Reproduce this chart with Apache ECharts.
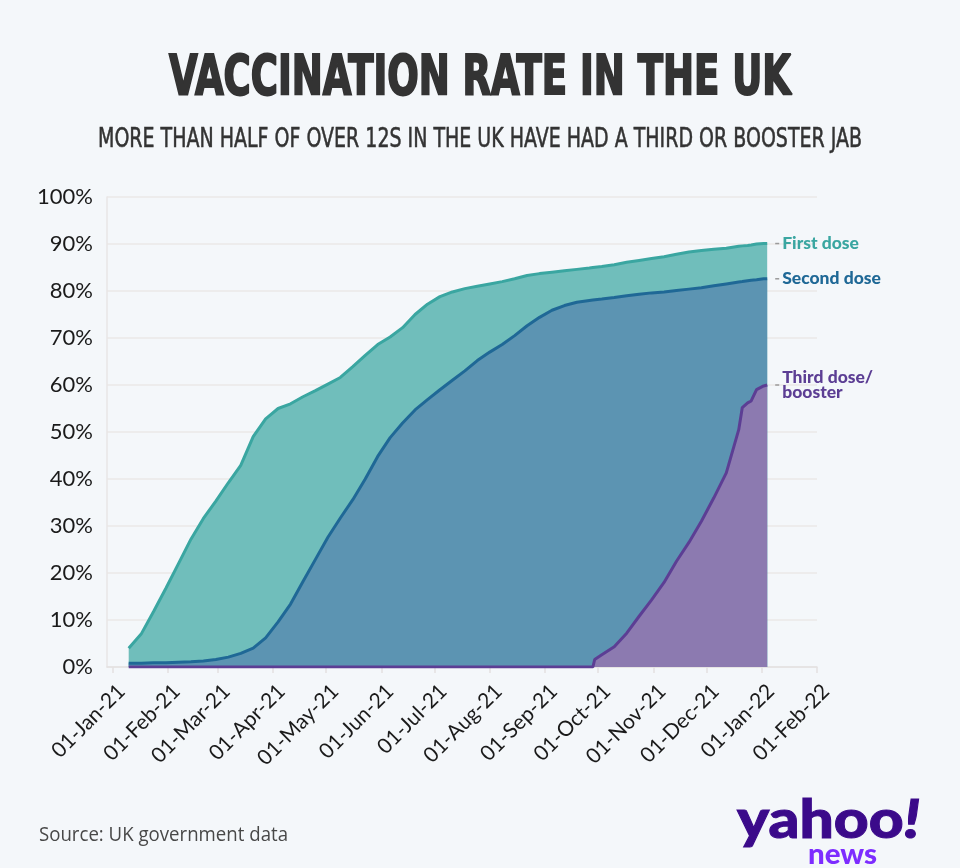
<!DOCTYPE html>
<html><head><meta charset="utf-8">
<script src="https://cdn.jsdelivr.net/npm/echarts@6/dist/echarts.min.js"></script>
<style>html,body{margin:0;padding:0;background:#f4f7fa}#chart{width:960px;height:868px}</style>
</head><body><div id="chart"></div>
<script>
const dates = ['2021-01-10','2021-01-17','2021-01-24','2021-01-31','2021-02-07','2021-02-14','2021-02-21','2021-02-28',
'2021-03-07','2021-03-14','2021-03-21','2021-03-28','2021-04-04','2021-04-11','2021-04-18','2021-04-25',
'2021-05-02','2021-05-09','2021-05-16','2021-05-23','2021-05-30','2021-06-06','2021-06-13','2021-06-20','2021-06-27',
'2021-07-04','2021-07-11','2021-07-18','2021-07-25','2021-08-01','2021-08-08','2021-08-15','2021-08-22','2021-08-29',
'2021-09-05','2021-09-12','2021-09-19','2021-09-26','2021-09-28','2021-09-29','2021-10-03','2021-10-10','2021-10-17',
'2021-10-24','2021-10-31','2021-11-07','2021-11-14','2021-11-21','2021-11-28','2021-12-05','2021-12-12','2021-12-19',
'2021-12-21','2021-12-24','2021-12-26','2021-12-29','2022-01-02','2022-01-04'];
const firstDose = [4.0,7.0,11.8,16.8,22.0,27.2,31.6,35.3,
39.2,42.9,49.0,52.8,55.0,56.0,57.5,58.8,
60.2,61.6,63.9,66.3,68.6,70.2,72.2,75.0,77.2,
78.8,79.8,80.5,81.0,81.5,82.0,82.6,83.3,83.7,
84.0,84.3,84.6,84.9,85.0,85.0,85.2,85.6,86.1,
86.5,86.9,87.3,87.8,88.3,88.6,88.9,89.1,89.5,
89.6,89.7,89.8,90.0,90.1,90.1];
const secondDose = [0.8,0.8,0.9,0.9,1.0,1.1,1.3,1.6,
2.1,2.9,4.0,6.2,9.6,13.4,18.2,22.9,
27.6,31.7,35.6,40.0,44.8,48.8,51.9,54.7,56.9,
59.0,61.0,63.0,65.2,67.0,68.6,70.5,72.6,74.4,
75.9,76.9,77.6,78.0,78.1,78.1,78.3,78.6,79.0,
79.3,79.6,79.8,80.1,80.4,80.7,81.1,81.5,81.9,
82.0,82.2,82.3,82.4,82.6,82.6];
const thirdDose = [0,0,0,0,0,0,0,0,
0,0,0,0,0,0,0,0,
0,0,0,0,0,0,0,0,0,
0,0,0,0,0,0,0,0,0,
0,0,0,0,0,1.6,2.6,4.3,7.2,
10.8,14.3,18.0,22.5,26.5,31.0,36.0,41.3,50.5,
55.2,56.2,56.6,59.0,59.8,60.0];
const monthTicks = ['2021-01-01','2021-02-01','2021-03-01','2021-04-01','2021-05-01','2021-06-01','2021-07-01',
'2021-08-01','2021-09-01','2021-10-01','2021-11-01','2021-12-01','2022-01-01','2022-02-01'];
const seriesNames = ['First dose','Second dose','Third dose/\nbooster'];
const MONTHS = ['Jan','Feb','Mar','Apr','May','Jun','Jul','Aug','Sep','Oct','Nov','Dec'];
const titleText = 'VACCINATION RATE IN THE UK';
const subtitleText = 'MORE THAN HALF OF OVER 12S IN THE UK HAVE HAD A THIRD OR BOOSTER JAB';
const sourceText = 'Source: UK government data';

function ts(s){const p=s.split('-').map(Number);return new Date(p[0],p[1]-1,p[2]).getTime();}
const DAY = 86400000;
const xMax = ts('2022-02-01');
const xMin = ts('2021-01-01') - 3.2*DAY;
const ctx = document.createElement('canvas').getContext('2d');
function fit(text, font, target){ctx.font=font;return target/ctx.measureText(text).width;}

const titleFont = 'bold 55px "DejaVu Sans Condensed"';
const subFont = '26px "DejaVu Sans Condensed"';
const srcFont = '20px "Open Sans"';
const yFont = '900 54px Lato';
const nFont = '900 29px Lato';

function mk(i, values, lineColor, fillColor){
  const last = values.length-1;
  return {
    name: seriesNames[i], type:'line', symbol:'none', silent:true,
    data: dates.map((d,k)=>[ts(d), values[k]]),
    lineStyle:{color:lineColor,width:3}, itemStyle:{color:lineColor},
    areaStyle:{color:fillColor,opacity:1},
    endLabel:{show:true, formatter:seriesNames[i], color:lineColor, fontFamily:'Lato', fontWeight:900,
      fontSize:17.5, lineHeight:15, distance:15, align:'left'},
    markPoint:{symbol:'rect', symbolSize:[4,1.5], symbolOffset:[10,0], silent:true, label:{show:false},
      itemStyle:{color:'#9a9a9a'}, data:[{coord:[ts(dates[last]), values[last]]}]}
  };
}

const yScale = fit('yahoo!', yFont, 184);
const chart = echarts.init(document.getElementById('chart'), null, {renderer:'canvas'});
chart.setOption({
  backgroundColor:'#f4f7fa',
  animation:false,
  grid:{left:107, top:197, width:710, height:470},
  xAxis:{type:'value', min:xMin, max:xMax, scale:true,
    axisLine:{show:true, onZero:false, lineStyle:{color:'#e3e1e1', width:1.5}},
    axisTick:{show:true, length:6, lineStyle:{color:'#e3e1e1', width:1.5}, customValues: monthTicks.map(ts)},
    axisLabel:{customValues: monthTicks.map(ts), rotate:45, margin:12, verticalAlign:'top', align:'right', padding:[2,0,0,0],
      color:'#1a1a1a', fontFamily:'Lato', fontSize:21,
      formatter:function(v){const d=new Date(v);return '01-'+MONTHS[d.getMonth()]+'-'+String(d.getFullYear()).slice(2);}},
    splitLine:{show:false}},
  yAxis:{type:'value', min:0, max:100, interval:10,
    axisLine:{show:true, lineStyle:{color:'#e8e6e6', width:1.5}},
    axisTick:{show:false},
    axisLabel:{formatter:'{value}%', color:'#1a1a1a', fontFamily:'Lato', fontSize:22, margin:14},
    splitLine:{lineStyle:{color:'#ebe8e7', width:1.5}}},
  series:[
    mk(0, firstDose, '#3aa6a1', '#70bebb'),
    mk(1, secondDose, '#1f6896', '#5c94b2'),
    mk(2, thirdDose, '#5c3e94', '#8c7ab0')
  ],
  graphic:[
    {type:'text', x:480, y:80, scaleX:fit(titleText,titleFont,622), style:{text:titleText, font:titleFont, fill:'#333333', stroke:'#333333', lineWidth:2, align:'center', verticalAlign:'middle', textAlign:'center', textVerticalAlign:'middle'}},
    {type:'text', x:480, y:140, scaleX:fit(subtitleText,subFont,764), style:{text:subtitleText, font:subFont, fill:'#333333', stroke:'#333333', lineWidth:0.5, align:'center', verticalAlign:'middle', textAlign:'center', textVerticalAlign:'middle'}},
    {type:'text', x:39, y:835, scaleX:fit(sourceText,srcFont,249), style:{text:sourceText, font:srcFont, fill:'#484848', align:'left', verticalAlign:'middle', textAlign:'left', textVerticalAlign:'middle'}},
    {type:'text', x:737, y:821, scaleX:yScale, style:{text:'{a|yahoo}{b|!}', fill:'#3b0a8a', stroke:'#3b0a8a', lineWidth:1, align:'left', verticalAlign:'middle', textAlign:'left', textVerticalAlign:'middle',
      rich:{a:{fontFamily:'Lato', fontWeight:900, fontSize:54, fill:'#3b0a8a', stroke:'#3b0a8a', lineWidth:1},
            b:{fontFamily:'Lato', fontWeight:900, fontStyle:'italic', fontSize:54, fill:'#3b0a8a', stroke:'#3b0a8a', lineWidth:1}}}},
    {type:'text', x:808, y:855, scaleX:fit('news',nFont,69), style:{text:'news', font:nFont, fill:'#7d2cff', align:'left', verticalAlign:'middle', textAlign:'left', textVerticalAlign:'middle'}}
  ]
});
</script></body></html>
